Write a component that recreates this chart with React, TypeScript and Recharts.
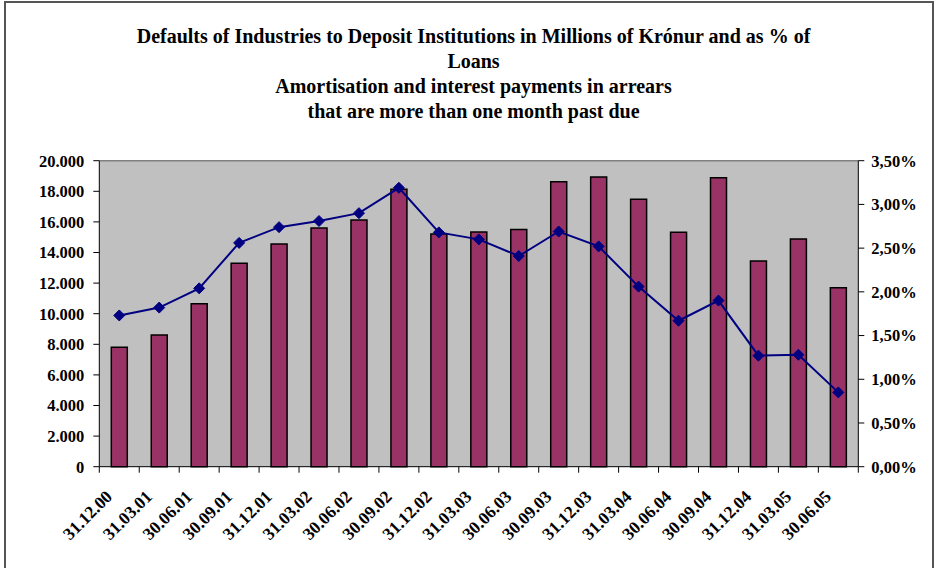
import React from 'react';
import { ComposedChart, Bar, Line, XAxis, YAxis, CartesianGrid, ReferenceLine } from 'recharts';

const categories = [
  '31.12.00', '31.03.01', '30.06.01', '30.09.01', '31.12.01', '31.03.02', '30.06.02',
  '30.09.02', '31.12.02', '31.03.03', '30.06.03', '30.09.03', '31.12.03', '31.03.04',
  '30.06.04', '30.09.04', '31.12.04', '31.03.05', '30.06.05',
];

// defaults in millions of krónur (left axis)
const defaultsMkr = [
  7800, 8600, 10650, 13300, 14550, 15600, 16120,
  18130, 15210, 15340, 15510, 18630, 18930, 17480,
  15320, 18890, 13440, 14880, 11700,
];

// defaults as % of loans (right axis)
const defaultsPct = [
  1.73, 1.82, 2.04, 2.56, 2.74, 2.81, 2.90,
  3.19, 2.68, 2.60, 2.41, 2.69, 2.52, 2.06,
  1.67, 1.90, 1.27, 1.28, 0.85,
];

const leftTicks = [0, 2000, 4000, 6000, 8000, 10000, 12000, 14000, 16000, 18000, 20000];
const rightTicks = [0, 0.5, 1, 1.5, 2, 2.5, 3, 3.5];

const titleLines = [
  'Defaults of Industries to Deposit Institutions in Millions of Krónur and as % of',
  'Loans',
  'Amortisation and interest payments in arrears',
  'that are more than one month past due',
];

const data = categories.map((date, i) => ({
  date,
  mkr: defaultsMkr[i],
  pct: defaultsPct[i],
}));

const FONT = '"Liberation Serif", "Times New Roman", serif';
const PLOT_W = 759;
const BAND = PLOT_W / categories.length;

const fmtThousands = (v: number) =>
  v === 0 ? '0' : `${Math.floor(v / 1000)}.${String(v % 1000).padStart(3, '0')}`;
const fmtPct = (v: number) => `${v.toFixed(2).replace('.', ',')}%`;

const textStyle = { fontFamily: FONT, fontWeight: 700, fontSize: 16.5 };

function DateTick(props: any) {
  const { x, y, payload, index } = props;
  const tx = x - 6;
  const ty = y + 31;
  return (
    <g>
      <line x1={x - BAND / 2} x2={x - BAND / 2} y1={y} y2={y + 6} stroke="#000" />
      {index === categories.length - 1 && (
        <line x1={x + BAND / 2} x2={x + BAND / 2} y1={y} y2={y + 6} stroke="#000" />
      )}
      <text
        x={tx}
        y={ty}
        textAnchor="end"
        transform={`rotate(-45, ${tx}, ${ty})`}
        style={{ ...textStyle, fontSize: 17.5 }}
        fill="#000"
      >
        {payload.value}
      </text>
    </g>
  );
}

function Diamond(props: any) {
  const { cx, cy } = props;
  if (cx == null || cy == null) return null;
  const r = 5.5;
  return (
    <polygon
      points={`${cx},${cy - r} ${cx + r},${cy} ${cx},${cy + r} ${cx - r},${cy}`}
      fill="#000080"
      stroke="#000080"
    />
  );
}

export default function App() {
  const axisTick = { style: textStyle, fill: '#000' };

  return (
    <div
      style={{
        position: 'absolute',
        left: 0,
        top: 0,
        width: 935,
        height: 568,
        background: '#fff',
        overflow: 'hidden',
        fontFamily: FONT,
      }}
    >
      <div
        style={{
          position: 'absolute',
          left: 4,
          top: 1,
          width: 926,
          height: 620,
          border: '2px solid #555',
        }}
      />
      <div
        style={{
          position: 'absolute',
          left: 6,
          top: 24,
          width: 935,
          textAlign: 'center',
          fontWeight: 'bold',
          fontSize: 20,
          lineHeight: '25px',
          color: '#000',
        }}
      >
        {titleLines.map((t) => (
          <div key={t}>{t}</div>
        ))}
      </div>
      <div style={{ position: 'absolute', left: 0, top: 0 }}>
        <ComposedChart
          width={935}
          height={568}
          data={data}
          margin={{ top: 160.7, right: 6.7, left: 39.3, bottom: 21.3 }}
        >
          <CartesianGrid horizontal={false} vertical={false} fill="#C0C0C0" />
          <ReferenceLine yAxisId="left" y={20000} stroke="#808080" strokeWidth={1.5} />
          <XAxis
            dataKey="date"
            interval={0}
            height={80}
            tickSize={0}
            tickMargin={0}
            tickLine={false}
            axisLine={{ stroke: '#000' }}
            tick={<DateTick />}
          />
          <YAxis
            yAxisId="left"
            orientation="left"
            width={60}
            domain={[0, 20000]}
            ticks={leftTicks}
            interval={0}
            tickFormatter={fmtThousands}
            tickSize={6}
            tickMargin={9}
            axisLine={{ stroke: '#000' }}
            tickLine={{ stroke: '#000' }}
            tick={axisTick}
          />
          <YAxis
            yAxisId="right"
            orientation="right"
            width={70}
            domain={[0, 3.5]}
            ticks={rightTicks}
            interval={0}
            tickFormatter={fmtPct}
            tickSize={6}
            tickMargin={7}
            axisLine={{ stroke: '#000' }}
            tickLine={{ stroke: '#000' }}
            tick={axisTick}
          />
          <Bar
            yAxisId="left"
            dataKey="mkr"
            barSize={16}
            fill="#993366"
            stroke="#000"
            strokeWidth={1.5}
            isAnimationActive={false}
          />
          <Line
            yAxisId="right"
            dataKey="pct"
            type="linear"
            stroke="#000080"
            strokeWidth={2}
            dot={<Diamond />}
            activeDot={false}
            isAnimationActive={false}
          />
        </ComposedChart>
      </div>
    </div>
  );
}
